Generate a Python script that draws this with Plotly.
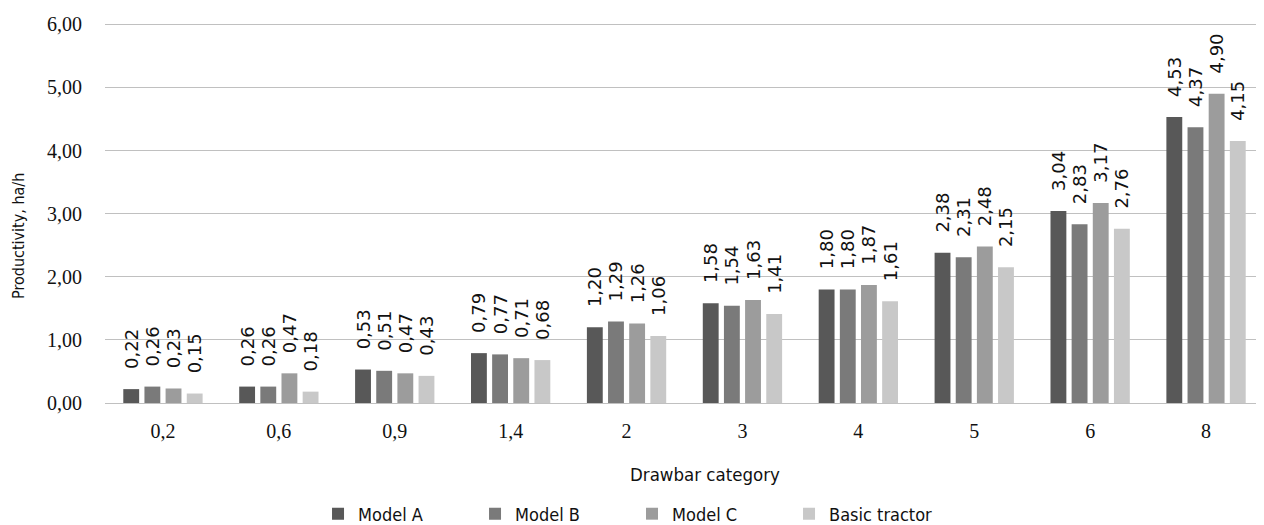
import plotly.graph_objects as go

categories = ["0,2", "0,6", "0,9", "1,4", "2", "3", "4", "5", "6", "8"]
model_a = [0.22, 0.26, 0.53, 0.79, 1.20, 1.58, 1.80, 2.38, 3.04, 4.53]
model_b = [0.26, 0.26, 0.51, 0.77, 1.29, 1.54, 1.80, 2.31, 2.83, 4.37]
model_c = [0.23, 0.47, 0.47, 0.71, 1.26, 1.63, 1.87, 2.48, 3.17, 4.90]
basic = [0.15, 0.18, 0.43, 0.68, 1.06, 1.41, 1.61, 2.15, 2.76, 4.15]

series = [
    ("Model A", model_a, "#585858"),
    ("Model B", model_b, "#7a7a7a"),
    ("Model C", model_c, "#9c9c9c"),
    ("Basic tractor", basic, "#c8c8c8"),
]

sans_c = "DejaVu Sans Condensed, Roboto, sans-serif"
serif = "Liberation Serif, Times New Roman, serif"

fig = go.Figure()
for name, vals, color in series:
    fig.add_trace(go.Bar(
        x=categories, y=vals, name=name,
        marker=dict(color=color, line=dict(width=0)),
        text=["\u00a0\u00a0\u00a0" + f"{v:.2f}".replace(".", ",") for v in vals],
        textposition="outside", textangle=-90, constraintext="none",
        textfont=dict(family="DejaVu Sans, Arial, sans-serif", size=18, color="#111111"),
        cliponaxis=False,
    ))

fig.update_layout(
    width=1256, height=517,
    paper_bgcolor="white", plot_bgcolor="white",
    margin=dict(l=97, r=0, t=15, b=122, autoexpand=False),
    barmode="group", bargap=0.27, bargroupgap=0.25,
    separators=", ",
    showlegend=True,
    legend=dict(orientation="h", x=0.1838, xanchor="left", y=-0.292, yanchor="middle",
                font=dict(family=sans_c, size=18, color="#111111"),
                entrywidth=112, entrywidthmode="pixels", traceorder="normal",
                itemwidth=30),
    font=dict(family=serif, size=16, color="#111111"),
    annotations=[
        dict(text="Drawbar category", xref="paper", yref="paper",
             x=0.5177, y=-0.187, xanchor="center", yanchor="middle", showarrow=False,
             font=dict(family=sans_c, size=18.5, color="#111111")),
        dict(text="Productivity, ha/h", xref="paper", yref="paper", textangle=-90,
             x=-0.0742, y=0.4395, xanchor="center", yanchor="middle", showarrow=False,
             font=dict(family=sans_c, size=16, color="#111111")),
    ],
)
fig.update_yaxes(range=[0, 6.02], dtick=1, tickformat=".2f", automargin=False,
                 showgrid=True, gridcolor="#c0c0c0", gridwidth=1,
                 zeroline=False, showline=False,
                 ticks="", ticklabelstandoff=22,
                 tickfont=dict(family=serif, size=20, color="#111111"))
fig.update_xaxes(showline=True, linecolor="#c0c0c0", linewidth=1, ticks="", automargin=False,
                 ticklabelstandoff=10,
                 tickfont=dict(family=serif, size=20, color="#111111"))

fig.write_html("out.html")
